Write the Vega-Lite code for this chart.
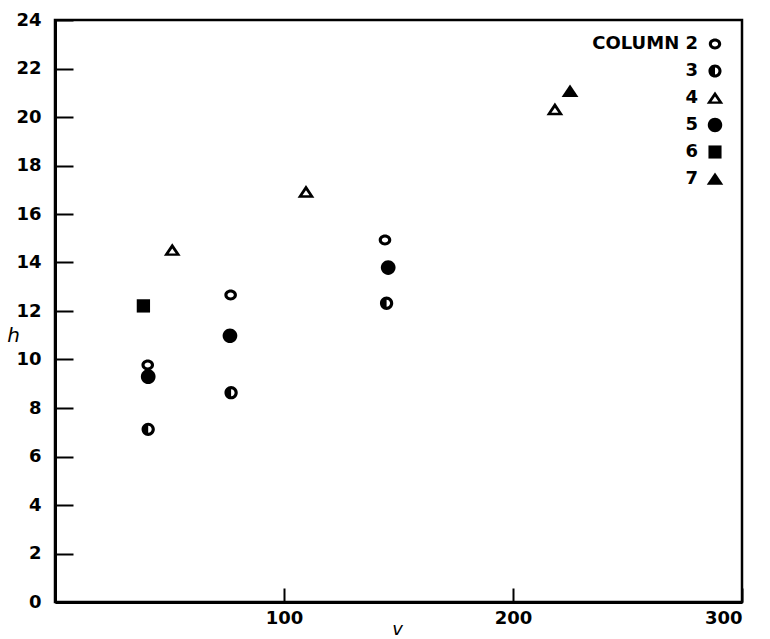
{
  "$schema": "https://vega.github.io/schema/vega-lite/v6.json",
  "width": 687,
  "height": 582,
  "autosize": {"type": "none"},
  "padding": {"left": 55, "top": 20, "right": 28, "bottom": 37},
  "background": "white",
  "config": {
    "view": {"stroke": "black", "strokeWidth": 2.5},
    "axis": {
      "domainColor": "black",
      "domainWidth": 3,
      "tickColor": "black",
      "tickWidth": 2,
      "grid": false,
      "labelFont": "DejaVu Sans",
      "labelFontWeight": "bold",
      "labelFontSize": 18,
      "labelColor": "black",
      "titleFont": "DejaVu Sans",
      "titleFontStyle": "italic",
      "titleFontWeight": "normal",
      "titleFontSize": 18,
      "titleColor": "black"
    }
  },
  "data": {
    "values": [
      {"column": "2", "v": 40.5, "h": 9.77},
      {"column": "2", "v": 76.7, "h": 12.66},
      {"column": "2", "v": 144.1, "h": 14.93},
      {"column": "3", "v": 40.7, "h": 7.12},
      {"column": "3", "v": 76.9, "h": 8.63},
      {"column": "3", "v": 144.8, "h": 12.32},
      {"column": "4", "v": 51.2, "h": 14.52},
      {"column": "4", "v": 109.6, "h": 16.92},
      {"column": "4", "v": 218.3, "h": 20.32},
      {"column": "5", "v": 40.7, "h": 9.29},
      {"column": "5", "v": 76.4, "h": 10.98},
      {"column": "5", "v": 145.5, "h": 13.79},
      {"column": "6", "v": 38.6, "h": 12.21},
      {"column": "7", "v": 224.9, "h": 21.07}
    ]
  },
  "mark": {"type": "point", "filled": true, "opacity": 1, "strokeWidth": 0, "color": "black", "size": 196},
  "encoding": {
    "x": {
      "field": "v",
      "type": "quantitative",
      "scale": {"domain": [0, 300], "nice": false, "zero": true},
      "axis": {
        "title": "v",
        "values": [100, 200, 300],
        "tickSize": -14,
        "labelPadding": 21,
        "titleX": 342,
        "titleY": 32,
        "titleAlign": "center",
        "titleBaseline": "alphabetic"
      }
    },
    "y": {
      "field": "h",
      "type": "quantitative",
      "scale": {"domain": [0, 24], "nice": false},
      "axis": {
        "title": "h",
        "values": [0, 2, 4, 6, 8, 10, 12, 14, 16, 18, 20, 22, 24],
        "tickSize": -18,
        "labelPadding": 32,
        "titleAngle": 0,
        "titleX": -42,
        "titleY": 315,
        "titleAlign": "center",
        "titleBaseline": "middle",
        "titleFontSize": 20
      }
    },
    "shape": {
      "field": "column",
      "type": "nominal",
      "scale": {
        "domain": ["2", "3", "4", "5", "6", "7"],
        "range": [
          "M0.9,0 A0.9,0.78 0 1,1 -0.9,0 A0.9,0.78 0 1,1 0.9,0 Z M0.45,0 A0.45,0.36 0 1,0 -0.45,0 A0.45,0.36 0 1,0 0.45,0 Z",
          "M0.95,0 A0.95,0.95 0 1,1 -0.95,0 A0.95,0.95 0 1,1 0.95,0 Z M0,0.5 A0.5,0.5 0 0,0 0,-0.5 Z",
          "M0,-0.95 L1.2,0.85 L-1.2,0.85 Z M0,-0.2 L-0.5,0.5 L0.5,0.5 Z",
          "M1.05,0 A1.05,1.05 0 1,1 -1.05,0 A1.05,1.05 0 1,1 1.05,0 Z",
          "M-0.95,-0.95 L0.95,-0.95 L0.95,0.95 L-0.95,0.95 Z",
          "M0,-0.95 L1.2,0.85 L-1.2,0.85 Z"
        ]
      },
      "legend": {
        "title": null,
        "orient": "none",
        "legendX": 651,
        "legendY": 15,
        "symbolSize": 190,
        "symbolFillColor": "black",
        "symbolStrokeColor": "black",
        "symbolStrokeWidth": 0,
        "symbolOpacity": 1,
        "labelAlign": "right",
        "labelOffset": -26,
        "labelFont": "DejaVu Sans",
        "labelFontWeight": "bold",
        "labelFontSize": 18,
        "labelColor": "black",
        "rowPadding": 9,
        "labelExpr": "datum.label == '2' ? 'COLUMN 2' : datum.label"
      }
    }
  }
}
